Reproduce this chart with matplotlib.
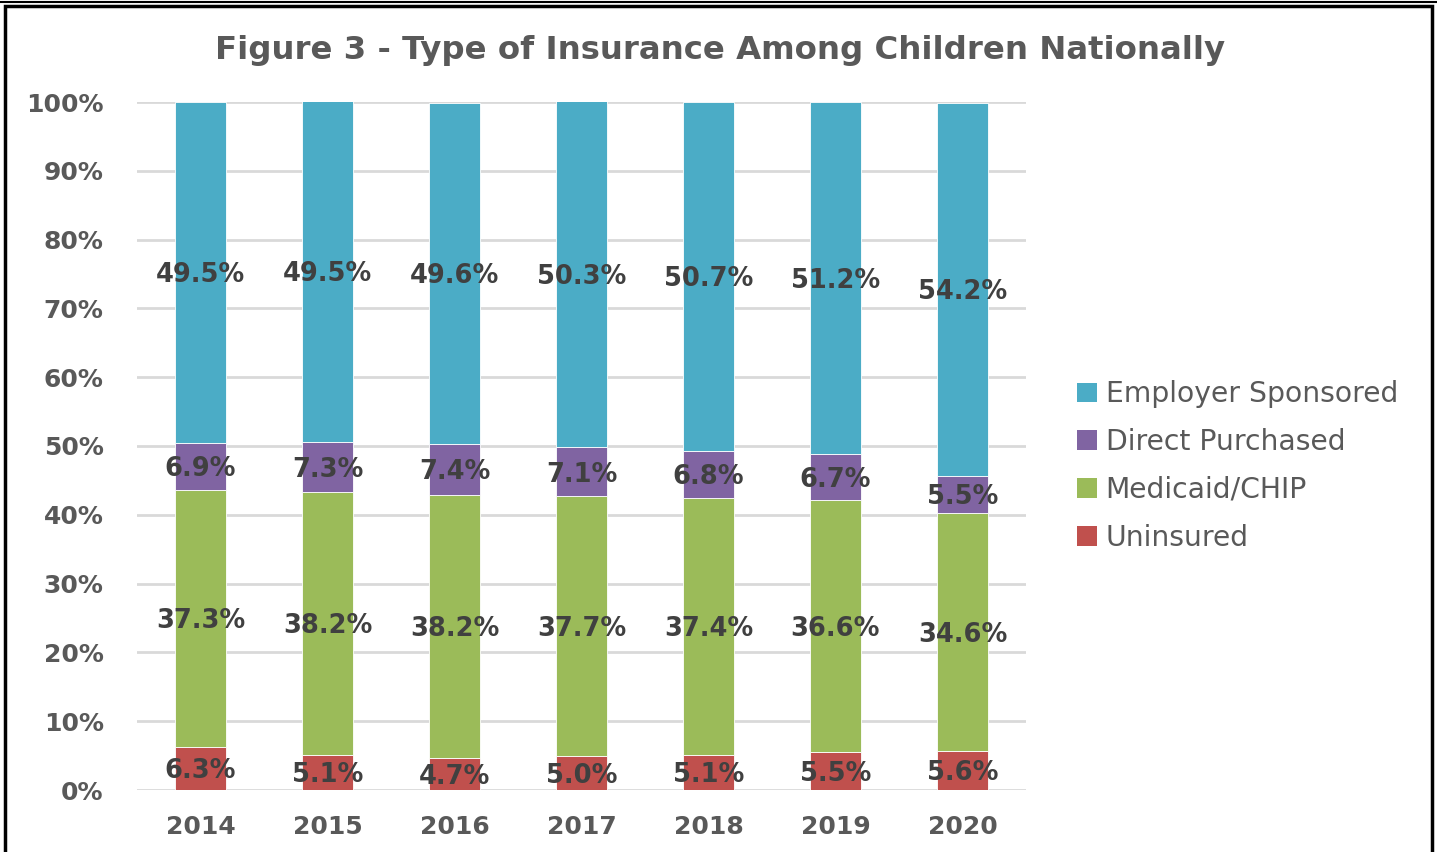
import matplotlib.pyplot as plt
import numpy as np
from matplotlib.patches import Patch, Rectangle
from matplotlib.lines import Line2D

# data (percent of children)
years = ['2014', '2015', '2016', '2017', '2018', '2019', '2020']
uninsured = [6.3, 5.1, 4.7, 5.0, 5.1, 5.5, 5.6]
medicaid = [37.3, 38.2, 38.2, 37.7, 37.4, 36.6, 34.6]
direct = [6.9, 7.3, 7.4, 7.1, 6.8, 6.7, 5.5]
employer = [49.5, 49.5, 49.6, 50.3, 50.7, 51.2, 54.2]

series = [('Uninsured', uninsured, '#C0504D'),
          ('Medicaid/CHIP', medicaid, '#9BBB59'),
          ('Direct Purchased', direct, '#8064A2'),
          ('Employer Sponsored', employer, '#4BACC6')]

plt.rcParams['font.family'] = 'DejaVu Sans'
gray = '#595959'

fig = plt.figure(figsize=(14.37, 8.52), dpi=100)
ax = fig.add_axes([137 / 1437, 1 - 790 / 852, 889 / 1437, 688 / 852])

x = np.arange(len(years))
bottom = np.zeros(len(years))
handles = []
for name, vals, col in series:
    vals = np.array(vals)
    ax.bar(x, vals, 0.4, bottom=bottom, color=col, edgecolor='white', linewidth=0.6)
    for xi, b, v in zip(x, bottom, vals):
        ax.text(xi, b + v / 2 - 0.4, f'{v:.1f}%', ha='center', va='center',
                fontsize=18.5, fontweight='bold', color='#404040')
    bottom = bottom + vals
    handles.append(Patch(facecolor=col, label=name))

ax.set_xlim(-0.5, len(years) - 0.5)
ax.set_ylim(0, 100)
ax.set_yticks(np.arange(0, 101, 10))
ax.set_yticklabels([f'{v}%' for v in range(0, 101, 10)])
ax.set_xticks(x)
ax.set_xticklabels(years)
ax.yaxis.grid(True, color='#D9D9D9', linewidth=2)
ax.set_axisbelow(True)
for s in ax.spines.values():
    s.set_visible(False)
ax.tick_params(length=0, labelsize=18, labelcolor=gray)
ax.tick_params(axis='y', pad=24)
ax.tick_params(axis='x', pad=18)
for lbl in ax.get_xticklabels() + ax.get_yticklabels():
    lbl.set_fontweight('bold')

fig.text(0.501, 1 - 50 / 852, 'Figure 3 - Type of Insurance Among Children Nationally',
         ha='center', va='center', fontsize=23.3, fontweight='bold', color=gray)

leg = fig.legend(handles=handles[::-1], loc='upper left',
                 bbox_to_anchor=(1052 / 1437, 1 - 355 / 852), frameon=False,
                 fontsize=20.3, labelcolor=gray, handlelength=0.7, handleheight=0.7,
                 handletextpad=0.3, labelspacing=0.7)

# outer frame
fig.add_artist(Rectangle((5 / 1437, -0.01), 1427 / 1437, 1 - 6 / 852 + 0.01,
                         transform=fig.transFigure, fill=False, edgecolor='black', linewidth=2.5))
fig.add_artist(Line2D([0, 1], [1 - 1.5 / 852] * 2, transform=fig.transFigure,
                      color='black', linewidth=1.5))

fig.savefig('out.png', dpi=100)
